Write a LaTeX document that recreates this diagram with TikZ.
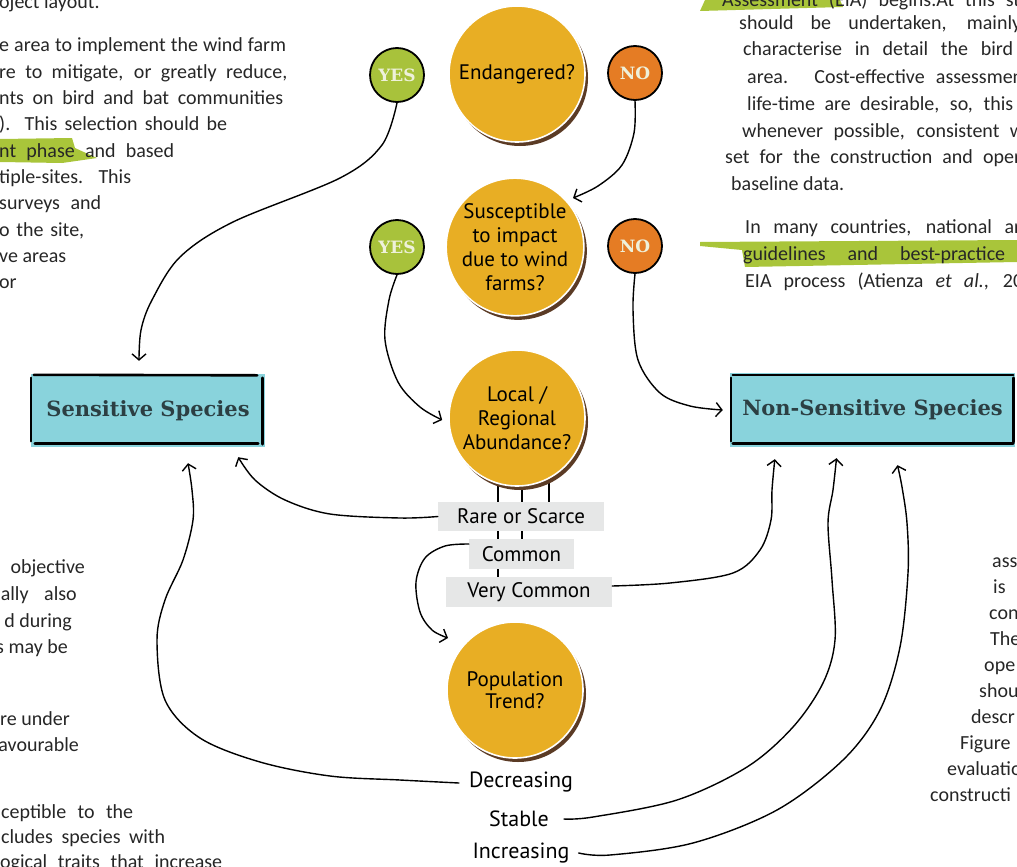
\documentclass[tikz,border=0pt]{standalone}
\usepackage{fontspec}
\setmainfont{Carlito}
\newfontfamily\hand{PT Sans}
\newfontfamily\slab{DejaVu Serif}
\usetikzlibrary{arrows.meta,shadows,calc,backgrounds}
\definecolor{gold}{HTML}{E8AE24}
\definecolor{shbrown}{HTML}{5B3B25}
\definecolor{yesgreen}{HTML}{A8C23B}
\definecolor{noorange}{HTML}{E57C24}
\definecolor{yntext}{HTML}{EEF1DA}
\definecolor{boxcyan}{HTML}{89D3DC}
\definecolor{boxtext}{HTML}{2C3F43}
\definecolor{labgray}{HTML}{E6E7E7}
\definecolor{hl}{HTML}{A9C53A}
\definecolor{bodytext}{HTML}{262626}
\begin{document}
\begin{tikzpicture}[x=1pt,y=-1pt,
  q/.style={circle, fill=gold, draw=white, line width=1.6pt, minimum size=136pt, inner sep=0pt,
    align=center, font=\hand\fontsize{21}{24}\selectfont,
    drop shadow={shadow xshift=3pt, shadow yshift=-4pt, opacity=1, fill=shbrown}},
  yn/.style={circle, draw=black, line width=1.8pt, minimum size=54pt, inner sep=0pt,
    font=\slab\bfseries\fontsize{17}{20}\selectfont, text=yntext},
  yesc/.style={yn, fill=yesgreen},
  noc/.style={yn, fill=noorange},
  spbox/.style={rectangle, fill=boxcyan, inner sep=0pt, font=\slab\bfseries\fontsize{21}{24}\selectfont, text=boxtext},
  bord/.style={line width=2.6pt, line cap=round},
  lab/.style={rectangle, fill=labgray, inner sep=0pt, font=\hand\fontsize{21}{24}\selectfont},
  trend/.style={inner sep=0pt, font=\hand\fontsize{22}{24}\selectfont},
  arr/.style={line width=1.4pt, line cap=round, line join=round, -{Straight Barb[length=6pt,width=14pt]}},
  stem/.style={line width=1.2pt},
  txt/.style={inner sep=0pt, text=bodytext, font=\fontsize{20}{24}\selectfont},
]
\useasboundingbox (0,0) rectangle (1017,867);

% ---------- highlighter swashes ----------
\fill[hl] (0,139) -- (72,138) -- (75,148) -- (97,158) -- (62,163) -- (0,162) -- cycle;
\fill[hl] (705,0) -- (840,0) -- (843,7) -- (700,11) -- cycle;
\fill[hl] (700,242) -- (1017,240) -- (1017,262) -- (745,267) -- (742,250) -- (700,246) -- cycle;

% ---------- surrounding page text ----------
\node[txt, anchor=base west] (l0) at (-1,9) {oject layout.};
\node[txt, anchor=base west] (l1) at (-1,52) {\makebox[287pt][s]{e area to implement the wind farm}};
\node[txt, anchor=base west] (l2) at (-1,78.3) {\makebox[288pt][s]{re to mitigate, or greatly reduce,}};
\node[txt, anchor=base west] (l3) at (-1,104.6) {\makebox[284pt][s]{nts on bird and bat communities}};
\node[txt, anchor=base west] (l4) at (-1,130.9) {\makebox[228pt][s]{). This selection should be}};
\node[txt, anchor=base west] (l5) at (-1,157.2) {\makebox[175pt][s]{nt phase and based}};
\node[txt, anchor=base west] (l6) at (-1,183.5) {\makebox[132pt][s]{tiple-sites. This}};
\node[txt, anchor=base west] (l7) at (-1,209.8) {\makebox[102pt][s]{surveys and}};
\node[txt, anchor=base west] (l8) at (-1,236.1) {\makebox[85pt][s]{o the site,}};
\node[txt, anchor=base west] (l9) at (-1,262.4) {\makebox[67pt][s]{ve areas}};
\node[txt, anchor=base west] (l10) at (-1,288.7) {or};

\node[txt, anchor=base east] (b1) at (85,573) {objective};
\node[txt, anchor=base east] (b2) at (77,600) {\makebox[76pt][s]{ally also}};
\node[txt, anchor=base east] (b3) at (72,627) {d during};
\node[txt, anchor=base east] (b4) at (68,653) {s may be};
\node[txt, anchor=base east] (b5) at (70,725) {re under};
\node[txt, anchor=base east] (b6) at (79,751) {avourable};
\node[txt, anchor=base west] (b7) at (1,818) {\makebox[132pt][s]{ceptible to the}};
\node[txt, anchor=base west] (b8) at (1,843) {\makebox[164pt][s]{cludes species with}};
\node[txt, anchor=base west] (b9) at (0,868) {\makebox[222pt][s]{ogical traits that increase}};

\node[txt, anchor=base west] (r0) at (722,7) {\makebox[298pt][s]{Assessment (EIA) begins.At this st}};
\node[txt, anchor=base west] (r1) at (739,30) {\makebox[282pt][s]{should be undertaken, mainly}};
\node[txt, anchor=base west] (r2) at (743,56) {\makebox[270pt][s]{characterise in detail the bird}};
\node[txt, anchor=base west] (r3) at (747,83) {\makebox[276pt][s]{area. Cost-effective assessmen}};
\node[txt, anchor=base west] (r4) at (747,110) {\makebox[266pt][s]{life-time are desirable, so, this}};
\node[txt, anchor=base west] (r5) at (742,137) {\makebox[282pt][s]{whenever possible, consistent w}};
\node[txt, anchor=base west] (r6) at (725,163) {\makebox[296pt][s]{set for the construction and oper}};
\node[txt, anchor=base west] (r7) at (731,190) {baseline data.};
\node[txt, anchor=base west] (r8) at (745,233) {\makebox[276pt][s]{In many countries, national ar}};
\node[txt, anchor=base west] (r9) at (743,260) {\makebox[262pt][s]{guidelines and best-practice}};
\node[txt, anchor=base west] (r10) at (745,287) {\makebox[278pt][s]{EIA process (Atienza \textit{et al.}, 20}};

\node[txt, anchor=base west] (s1) at (992,567) {ass};
\node[txt, anchor=base west] (s2) at (993,593) {is};
\node[txt, anchor=base west] (s3) at (989,619) {con};
\node[txt, anchor=base west] (s4) at (990,645) {The};
\node[txt, anchor=base west] (s5) at (984,671) {ope};
\node[txt, anchor=base west] (s6) at (979,697) {shou};
\node[txt, anchor=base west] (s7) at (971,723) {descr};
\node[txt, anchor=base west] (s8) at (960,749) {Figure};
\node[txt, anchor=base west] (s9) at (947,775) {evaluatio};
\node[txt, anchor=base west] (s10) at (930,801) {constructi};

% ---------- question circles ----------
\node[q] (endg) at (517,74) {Endangered?};
\node[q] (susc) at (515,247) {Susceptible\\to impact\\due to wind\\farms?};
\node[q] (abun) at (517,418) {Local /\\Regional\\Abundance?};
\node[q, font=\hand\fontsize{21}{22}\selectfont] (popt) at (515,690) {Population\\Trend?};

% ---------- yes / no ----------
\node[yesc] (yes1) at (397,75) {YES};
\node[noc] (no1) at (635,73) {NO};
\node[yesc] (yes2) at (397,247) {YES};
\node[noc] (no2) at (635,246) {NO};

% ---------- species boxes ----------
\node[spbox, minimum width=234pt, minimum height=73pt] (sens) at (148,410.5) {Sensitive Species};
\node[spbox, minimum width=285pt, minimum height=74pt] (nons) at (872.5,410) {Non-Sensitive Species};
\draw[bord] ($(sens.north west)+(3,1)$) -- ($(sens.north east)+(-8,1.5)$);
\draw[bord] ($(sens.south west)+(4,-4)$) -- ($(sens.south east)+(-7,-4)$);
\draw[bord] ($(sens.north west)+(0,4)$) -- ($(sens.south west)+(0,-6)$);
\draw[bord] ($(sens.north east)+(-3,4)$) -- ($(sens.south east)+(-3,-3)$);
\draw[bord] ($(nons.north west)+(3,2)$) -- ($(nons.north east)+(-2,2)$);
\draw[bord] ($(nons.south west)+(3,-4)$) -- ($(nons.south east)+(-2,-4)$);
\draw[bord] ($(nons.north west)+(1,5)$) -- ($(nons.south west)+(1,-6)$);
\draw[bord] ($(nons.north east)+(-2,5)$) -- ($(nons.south east)+(-2,-5)$);

% ---------- abundance classes ----------
\node[lab, minimum width=166pt, minimum height=29pt] (rare) at (521,516.5) {Rare or Scarce};
\node[lab, minimum width=105pt, minimum height=30pt] (comm) at (521.5,554) {Common};
\node[lab, minimum width=166pt, minimum height=30pt] (vcom) at (529,592) {Very Common};
\begin{pgfonlayer}{background}
\draw[stem] ($(abun.center)+(32,58)$) -- ($(rare.north)+(28,0)$);
\draw[stem] ($(abun.center)+(5,66)$) -- ($(comm.north)+(0.5,0)$);
\draw[stem] ($(abun.center)+(-19,63)$) -- ($(vcom.north)+(-31,0)$);
\end{pgfonlayer}

% ---------- trend classes ----------
\node[trend] (dec) at (521,782) {Decreasing};
\node[trend] (stab) at (519,819) {Stable};
\node[trend] (inc) at (521,853) {Increasing};

% ---------- connectors ----------
\draw[arr] plot[smooth, tension=0.55] coordinates {(yes1.south) (382,145) (340,178) (233,222) (180,257) (152,300) (141,330) ($(sens.north)+(-9,-13)$)};
\draw[arr] plot[smooth, tension=0.55] coordinates {(no1.south) (634,133) (622,165) (598,186) ($(susc.center)+(58,-49)$)};
\draw[arr] plot[smooth, tension=0.55] coordinates {(yes2.south) (389,300) (385,340) (398,382) (420,407) ($(abun.west)+(-6,2)$)};
\draw[arr] plot[smooth, tension=0.55] coordinates {(no2.south) (633,310) (638,360) (660,393) (690,406) ($(nons.west)+(-7,0)$)};
\draw[arr] plot[smooth, tension=0.55] coordinates {(rare.west) (400,518) (330,514) (285,500) (255,480) ($(sens.south east)+(-27,10)$)};
\draw[arr] plot[smooth, tension=0.55] coordinates {($(comm.west)+(0,-10)$) (445,546) (425,558) (416,582) (420,612) (432,630) ($(popt.center)+(-67,-52)$)};
\draw[arr] plot[smooth, tension=0.55] coordinates {($(vcom.east)+(0,-6)$) (670,583) (733,573) (760,550) (771,520) (772,490) ($(nons.south west)+(45,12)$)};
\draw[arr] plot[smooth, tension=0.55] coordinates {($(dec.west)+(-10,1)$) (400,780) (330,776) (260,762) (200,738) (165,700) (157,640) (165,600) (183,560) (193,520) (192,490) ($(sens.south)+(40,16)$)};
\draw[arr] plot[smooth, tension=0.55] coordinates {($(stab.east)+(15,0)$) (593,817) (677,800) (747,767) (793,727) (823,683) (835,640) (832,580) (828,523) (833,490) ($(nons.south)+(-36,11)$)};
\draw[arr] plot[smooth, tension=0.55] coordinates {($(inc.east)+(9,0)$) (610,855) (693,843) (777,810) (843,760) (880,710) (900,647) (908,573) (907,523) (902,487) ($(nons.south)+(25,18)$)};
\end{tikzpicture}
\end{document}
